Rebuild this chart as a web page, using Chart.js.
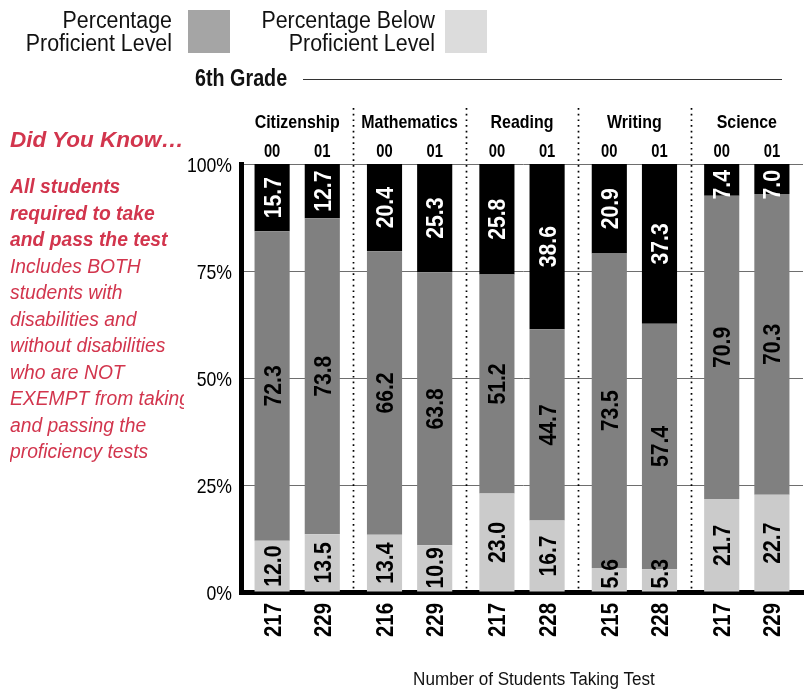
<!DOCTYPE html>
<html>
<head>
<meta charset="utf-8">
<script src="https://cdn.jsdelivr.net/npm/chart.js@4.4.0/dist/chart.umd.min.js"></script>
<style>
  body { margin: 0; background: #fff; }
  #wrap { position: relative; width: 812px; height: 692px; overflow: hidden;
          font-family: "Liberation Sans", Arial, sans-serif; color: #111; }
  canvas { position: absolute; left: 0; top: 0; }
  .leg { position: absolute; top: 9px; text-align: right; font-size: 23px; line-height: 22.5px;
         transform: scaleX(0.93); transform-origin: right top; }
  .sw { position: absolute; top: 10px; width: 42px; height: 43px; }
  #grade { position: absolute; left: 195px; top: 66px; font-size: 23.5px; line-height: 24px; font-weight: bold;
           transform: scaleX(0.84); transform-origin: left top; }
  #rule { position: absolute; left: 303px; top: 79px; width: 479px; border-top: 1px solid #333; }
  #xtitle { position: absolute; left: 334px; top: 670px; width: 400px; text-align: center; font-size: 18px; line-height: 18px;
            transform: scaleX(0.95); transform-origin: center top; }
  .red { position: absolute; left: 10px; color: #d2354d; font-style: italic; white-space: nowrap; }
  #dyk { top: 128px; font-size: 22.5px; line-height: 23px; font-weight: bold; }
  #note { top: 174px; width: 174px; overflow: hidden; font-size: 19.3px; line-height: 26.5px; }
</style>
</head>
<body>
<div id="wrap">
  <canvas id="chart" width="812" height="692"></canvas>
  <div class="leg" style="left:0;width:172px">Percentage<br>Proficient Level</div>
  <div class="sw" style="left:188px;background:#a5a5a5"></div>
  <div class="leg" style="left:135px;width:300px">Percentage Below<br>Proficient Level</div>
  <div class="sw" style="left:445px;background:#dcdcdc"></div>
  <div id="grade">6th Grade</div>
  <div id="rule"></div>
  <div class="red" id="dyk">Did You Know…</div>
  <div class="red" id="note"><b>All students<br>required to take<br>and pass the test</b><br>Includes BOTH<br>students with<br>disabilities and<br>without disabilities<br>who are NOT<br>EXEMPT from taking<br>and passing the<br>proficiency tests</div>
  <div id="xtitle">Number of Students Taking Test</div>
</div>
<script>
const subjects = ["Citizenship", "Mathematics", "Reading", "Writing", "Science"];
const years = ["00", "01"];
const below00 = [12.0, 13.4, 23.0, 5.6, 21.7];
const below01 = [13.5, 10.9, 16.7, 5.3, 22.7];
const prof00 = [72.3, 66.2, 51.2, 73.5, 70.9];
const prof01 = [73.8, 63.8, 44.7, 57.4, 70.3];
const above00 = [15.7, 20.4, 25.8, 20.9, 7.4];
const above01 = [12.7, 25.3, 38.6, 37.3, 7.0];
const tested00 = [217, 216, 217, 215, 217];
const tested01 = [229, 229, 228, 228, 229];
const yTicks = [0, 25, 50, 75, 100];

const FONT = '"Liberation Sans", Arial, sans-serif';
Chart.defaults.font.family = FONT;
Chart.defaults.color = "#000";

const LIGHT = "#cbcbcb";
const MID = "#808080";
const DARK = "#000000";

function seg(data, stack, color, level, textColor) {
  return {
    data: data,
    stack: stack,
    backgroundColor: color,
    borderWidth: 0,
    level: level,
    textColor: textColor,
    categoryPercentage: 0.893,
    barPercentage: 0.7,
  };
}

// horizontally condensed text (the original uses a condensed face)
function cText(ctx, txt, x, y, k, align) {
  ctx.save();
  ctx.translate(x, y);
  ctx.scale(k, 1);
  ctx.textAlign = align;
  ctx.textBaseline = "alphabetic";
  ctx.fillText(txt, 0, 0);
  ctx.restore();
}

// rotated text: glyph tops face left, reads bottom to top
function vText(ctx, txt, x, y, size, k, align) {
  ctx.save();
  ctx.translate(x, y);
  ctx.rotate(-Math.PI / 2);
  ctx.scale(k, 1);
  ctx.textAlign = align;
  ctx.textBaseline = "alphabetic";
  ctx.fillText(txt, 0, size * 0.36);
  ctx.restore();
}

const valueLabels = {
  id: "valueLabels",
  afterDatasetsDraw(chart) {
    const ctx = chart.ctx;
    const size = 23.5;
    const k = 0.9;
    ctx.save();
    ctx.font = "bold " + size + "px " + FONT;
    chart.data.datasets.forEach((ds, di) => {
      chart.getDatasetMeta(di).data.forEach((bar, i) => {
        const txt = ds.data[i].toFixed(1);
        const w = ctx.measureText(txt).width * k;
        const top = Math.min(bar.y, bar.base);
        const bot = Math.max(bar.y, bar.base);
        let cy = (top + bot) / 2;
        if (ds.level === "above") cy = Math.max(cy, top + 6 + w / 2);
        if (ds.level === "below") cy = Math.min(cy, bot - 3 - w / 2);
        ctx.fillStyle = ds.textColor;
        vText(ctx, txt, bar.x, cy, size, k, "center");
      });
    });
    ctx.restore();
  },
};

const axisText = {
  id: "axisText",
  afterDraw(chart) {
    const ctx = chart.ctx;
    const x = chart.scales.x;
    const y = chart.scales.y;
    const area = chart.chartArea;
    ctx.save();
    ctx.fillStyle = "#000";

    // y tick labels
    ctx.font = "21px " + FONT;
    y.ticks.forEach((t) => {
      cText(ctx, t.value + "%", area.left - 9, y.getPixelForValue(t.value) + 7.5, 0.84, "right");
    });

    // dotted separators between subjects
    ctx.strokeStyle = "#000";
    ctx.lineWidth = 1.7;
    ctx.setLineDash([1.7, 4]);
    for (let i = 0; i < subjects.length - 1; i++) {
      const sx = Math.round((x.getPixelForValue(i) + x.getPixelForValue(i + 1)) / 2) + 0.5;
      ctx.beginPath();
      ctx.moveTo(sx, 108);
      ctx.lineTo(sx, area.bottom);
      ctx.stroke();
    }
    ctx.setLineDash([]);

    // subject names
    ctx.font = "bold 19px " + FONT;
    subjects.forEach((s, i) => cText(ctx, s, x.getPixelForValue(i), 128, 0.84, "center"));

    // years above and test counts below each bar
    const metas = [chart.getDatasetMeta(0), chart.getDatasetMeta(3)];
    const counts = [tested00, tested01];
    metas.forEach((meta, k) => {
      meta.data.forEach((bar, i) => {
        ctx.font = "bold 18px " + FONT;
        cText(ctx, years[k], bar.x, 157, 0.82, "center");
        ctx.font = "bold 23.5px " + FONT;
        vText(ctx, String(counts[k][i]), bar.x, 603, 23.5, 0.87, "right");
      });
    });
    ctx.restore();
  },
};

new Chart(document.getElementById("chart"), {
  type: "bar",
  data: {
    labels: subjects,
    datasets: [
      seg(below00, "00", LIGHT, "below", "#000"),
      seg(prof00, "00", MID, "prof", "#000"),
      seg(above00, "00", DARK, "above", "#fff"),
      seg(below01, "01", LIGHT, "below", "#000"),
      seg(prof01, "01", MID, "prof", "#000"),
      seg(above01, "01", DARK, "above", "#fff"),
    ],
  },
  options: {
    responsive: false,
    animation: false,
    devicePixelRatio: 1,
    layout: { padding: { left: 181, right: 9, top: 164, bottom: 100 } },
    plugins: { legend: { display: false }, tooltip: { enabled: false } },
    scales: {
      x: {
        stacked: true,
        grid: { display: false },
        border: { display: true, color: "#000", width: 5 },
        ticks: { display: false },
        afterFit: (s) => { s.height = 0; },
      },
      y: {
        stacked: true,
        min: 0,
        max: 100,
        afterBuildTicks: (s) => { s.ticks = yTicks.map((v) => ({ value: v })); },
        ticks: { display: false },
        grid: { color: "#6e6e6e", lineWidth: 1, drawTicks: false },
        border: { display: true, color: "#000", width: 5 },
        afterFit: (s) => { s.width = 60; },
      },
    },
  },
  plugins: [valueLabels, axisText],
});
</script>
</body>
</html>
